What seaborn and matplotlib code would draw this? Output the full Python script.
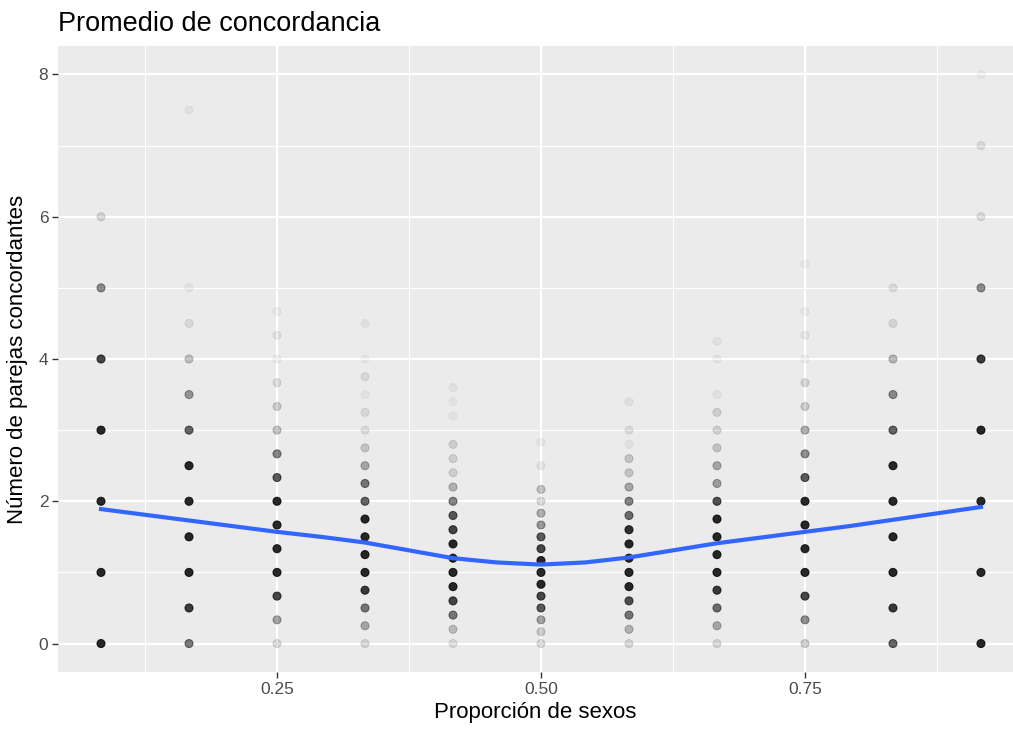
import numpy as np
import pandas as pd
import matplotlib
matplotlib.use('Agg')
import matplotlib.pyplot as plt
import seaborn as sns

# proporcion de sexos (k/12) y, para cada una, los valores observados
# de parejas concordantes y su opacidad aparente (solapamiento de puntos)
proporciones = [1/12, 2/12, 3/12, 4/12, 5/12, 6/12, 7/12, 8/12, 9/12, 10/12, 11/12]

valores = [
    [0, 1, 2, 3, 4, 5, 6],
    [0, 0.5, 1, 1.5, 2, 2.5, 3, 3.5, 4, 4.5, 5, 7.5],
    [0, 1/3, 2/3, 1, 4/3, 5/3, 2, 7/3, 8/3, 3, 10/3, 11/3, 4, 13/3, 14/3],
    [0, 0.25, 0.5, 0.75, 1, 1.25, 1.5, 1.75, 2, 2.25, 2.5, 2.75, 3, 3.25, 3.5, 3.75, 4, 4.5],
    [0, 0.2, 0.4, 0.6, 0.8, 1, 1.2, 1.4, 1.6, 1.8, 2, 2.2, 2.4, 2.6, 2.8, 3.2, 3.4, 3.6],
    [0, 1/6, 2/6, 3/6, 4/6, 5/6, 1, 7/6, 8/6, 9/6, 10/6, 11/6, 2, 13/6, 15/6, 17/6],
    [0, 0.2, 0.4, 0.6, 0.8, 1, 1.2, 1.4, 1.6, 1.8, 2, 2.2, 2.4, 2.6, 2.8, 3, 3.4],
    [0, 0.25, 0.5, 0.75, 1, 1.25, 1.5, 1.75, 2, 2.25, 2.5, 2.75, 3, 3.25, 3.5, 4, 4.25],
    [0, 1/3, 2/3, 1, 4/3, 5/3, 2, 7/3, 8/3, 3, 10/3, 11/3, 4, 13/3, 14/3, 16/3],
    [0, 0.5, 1, 1.5, 2, 2.5, 3, 3.5, 4, 4.5, 5],
    [0, 1, 2, 3, 4, 5, 6, 7, 8],
]

opacidades = [
    [1, 1, 1, 1, 0.85, 0.5, 0.15],
    [0.6, 0.9, 1, 1, 1, 1, 0.7, 0.45, 0.25, 0.1, 0.05, 0.05],
    [0.15, 0.4, 0.85, 1, 1, 1, 1, 0.75, 0.55, 0.25, 0.2, 0.12, 0.05, 0.08, 0.05],
    [0.15, 0.35, 0.6, 0.9, 1, 1, 1, 1, 0.7, 0.6, 0.35, 0.2, 0.1, 0.1, 0.04, 0.1, 0.04, 0.05],
    [0.12, 0.25, 0.6, 0.85, 1, 1, 1, 1, 0.85, 0.75, 0.55, 0.3, 0.15, 0.15, 0.15, 0.04, 0.04, 0.05],
    [0.15, 0.2, 0.4, 0.75, 0.85, 1, 1, 1, 0.85, 0.75, 0.45, 0.35, 0.15, 0.25, 0.08, 0.05],
    [0.15, 0.3, 0.6, 0.8, 1, 1, 1, 1, 0.95, 0.65, 0.55, 0.35, 0.2, 0.2, 0.05, 0.1, 0.06],
    [0.15, 0.35, 0.65, 0.9, 1, 1, 1, 1, 0.8, 0.4, 0.35, 0.2, 0.15, 0.15, 0.05, 0.05, 0.05],
    [0.2, 0.5, 0.85, 1, 1, 1, 1, 0.75, 0.5, 0.35, 0.2, 0.15, 0.05, 0.07, 0.05, 0.04],
    [0.7, 0.9, 1, 1, 1, 1, 0.7, 0.5, 0.3, 0.12, 0.1],
    [1, 1, 1, 1, 0.9, 0.5, 0.12, 0.1, 0.04],
]

# curva suavizada (loess)
suave_x = [1/12, 3/24, 2/12, 5/24, 3/12, 7/24, 4/12, 9/24, 5/12, 11/24, 6/12,
           13/24, 7/12, 15/24, 8/12, 17/24, 9/12, 19/24, 10/12, 21/24, 11/12]
suave_y = [1.89, 1.81, 1.73, 1.65, 1.57, 1.50, 1.42, 1.31, 1.20, 1.14, 1.11,
           1.14, 1.21, 1.31, 1.41, 1.49, 1.57, 1.65, 1.74, 1.83, 1.92]

filas = []
for p, vals, ops in zip(proporciones, valores, opacidades):
    for v, o in zip(vals, ops):
        filas.append({'prop': p, 'concord': v, 'op': round(o, 3)})
df = pd.DataFrame(filas)

# negro con transparencia segun solapamiento
paleta = {o: (0, 0, 0, o * 0.84) for o in df['op'].unique()}

plt.rcParams['font.family'] = ['Liberation Sans', 'DejaVu Sans']

fig = plt.figure(figsize=(10.13, 7.3), dpi=100)
ax = fig.add_axes([58/1013, 58/730, (1013-58)/1013, (672-46)/730])
ax.set_facecolor('#EBEBEB')

sns.scatterplot(data=df, x='prop', y='concord', hue='op', palette=paleta,
                s=34, linewidth=0.7, edgecolor='face', legend=False, ax=ax, zorder=3)
sns.lineplot(x=suave_x, y=suave_y, color='#3366FF', linewidth=3, ax=ax, zorder=4)

ax.set_xlim(0.0426, 0.947)
ax.set_ylim(-0.4, 8.4)

ax.set_xticks([0.25, 0.5, 0.75])
ax.set_xticklabels(['0.25', '0.50', '0.75'])
ax.set_xticks([0.125, 0.375, 0.625, 0.875], minor=True)
ax.set_yticks([0, 2, 4, 6, 8])
ax.set_yticks([1, 3, 5, 7], minor=True)

ax.grid(which='major', color='white', linewidth=1.6)
ax.grid(which='minor', color='white', linewidth=0.8)
ax.set_axisbelow(True)
for sp in ax.spines.values():
    sp.set_visible(False)

ax.tick_params(which='major', length=4, width=1, color='#333333',
               labelsize=12.5, labelcolor='#4D4D4D', pad=3)
ax.tick_params(which='minor', length=0)

ax.set_xlabel('Proporción de sexos', fontsize=16, color='black', labelpad=4)
ax.set_ylabel('Número de parejas concordantes', fontsize=16, color='black', labelpad=8)
ax.set_title('Promedio de concordancia', fontsize=19.5, loc='left', pad=11)

fig.savefig('out.png', dpi=100)
